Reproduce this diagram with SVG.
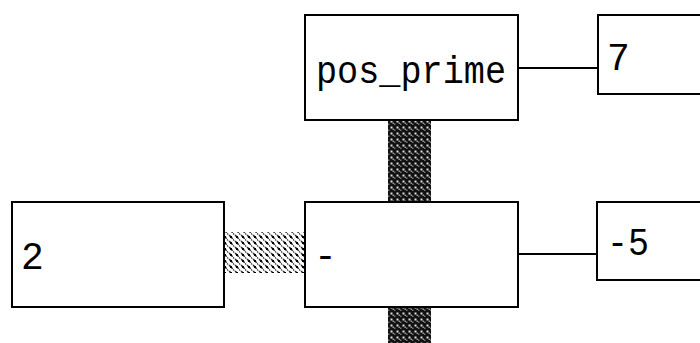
<svg xmlns="http://www.w3.org/2000/svg" width="700" height="343" viewBox="0 0 700 343">
  <defs>
    <style>
      .box { fill: #ffffff; stroke: #000000; stroke-width: 2; }
      .lbl { font-family: "Liberation Mono", "DejaVu Sans Mono", monospace; font-size: 38px; fill: #000000; }
      .wire { stroke: #000000; stroke-width: 2; fill: none; }
    </style>
    <!-- diagonal dotted stripes for the horizontal link -->
    <pattern id="stripes" x="0" y="0" width="6" height="6" patternUnits="userSpaceOnUse">
      <rect width="6" height="6" fill="#ffffff"/>
      <path d="M-1,-1 L7,7 M-4,2 L1,7 M5,-1 L7,1" stroke="#222222" stroke-width="1.5" stroke-dasharray="2 1"/>
      <rect x="2" y="2" width="2" height="2" fill="#000000"/>
    </pattern>
    <!-- dense dark weave for the vertical links -->
    <pattern id="weave" x="0" y="0" width="6" height="6" patternUnits="userSpaceOnUse">
      <rect width="6" height="6" fill="#111111"/>
      <rect x="0.5" y="0.5" width="2" height="2" fill="#e0e0e0"/>
      <rect x="2.5" y="2.5" width="1.5" height="1.5" fill="#999999"/>
      <rect x="4" y="3.5" width="1.5" height="1.5" fill="#777777"/>
    </pattern>
  </defs>

  <g id="connectors">
    <line class="wire" x1="518" y1="68" x2="598" y2="68"/>
    <line class="wire" x1="518" y1="254" x2="597" y2="254"/>
    <rect x="388" y="120" width="43" height="82" fill="url(#weave)"/>
    <rect x="388" y="307" width="43" height="36" fill="url(#weave)"/>
    <rect x="224" y="232" width="80" height="41" fill="url(#stripes)"/>
  </g>

  <g id="node-pos-prime">
    <rect class="box" x="305" y="15" width="213" height="105"/>
    <text class="lbl" x="316" y="83" textLength="190" lengthAdjust="spacingAndGlyphs">pos_prime</text>
  </g>

  <g id="node-7">
    <rect class="box" x="598" y="15" width="120" height="79"/>
    <text class="lbl" x="607" y="70">7</text>
  </g>

  <g id="node-minus">
    <rect class="box" x="305" y="202" width="213" height="105"/>
    <text class="lbl" x="314" y="268">-</text>
  </g>

  <g id="node-2">
    <rect class="box" x="12" y="202" width="212" height="105"/>
    <text class="lbl" x="21" y="269">2</text>
  </g>

  <g id="node-neg5">
    <rect class="box" x="597" y="202" width="120" height="78"/>
    <text class="lbl" x="607" y="255" textLength="42" lengthAdjust="spacingAndGlyphs">-5</text>
  </g>
</svg>
